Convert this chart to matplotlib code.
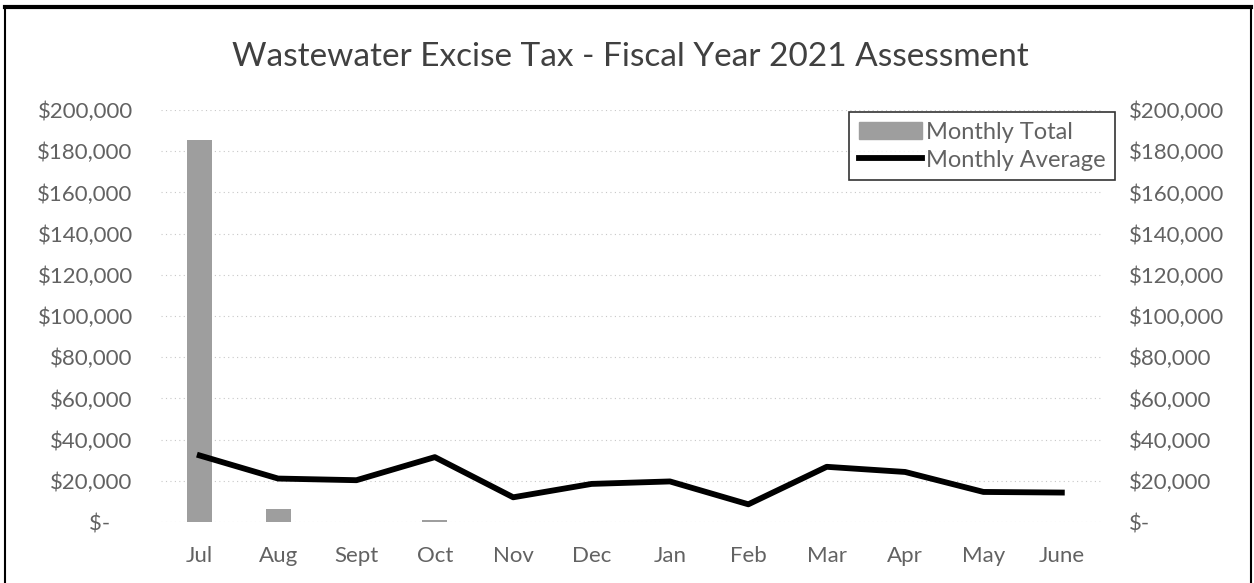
import numpy as np
import matplotlib.pyplot as plt
from matplotlib.lines import Line2D
from matplotlib.ticker import FuncFormatter

plt.rcParams['font.family'] = ['Lato', 'DejaVu Sans']

meses = ['Jul', 'Aug', 'Sept', 'Oct', 'Nov', 'Dec', 'Jan', 'Feb', 'Mar', 'Apr', 'May', 'June']
total_mensual = [185400, 6500, 0, 900, 0, 0, 0, 0, 0, 0, 0, 0]
promedio_mensual = [32300, 21100, 20300, 31500, 12000, 18500, 19700, 8600, 26800, 24300, 14600, 14300]
ticks_y = list(range(0, 200001, 20000))

gris_texto = '#626262'
tam = 16


def dinero(v, pos=None):
    if v == 0:
        return '$-    '
    return f'${v:,.0f}'


fig = plt.figure(figsize=(12.54, 5.83), dpi=100)
ax = fig.add_axes([0.128, 0.1046, 0.75, 0.7067])
x = np.arange(len(meses))

ax.bar(x, total_mensual, width=0.32, color='#9e9e9e', zorder=2, label='Monthly Total')
ax.set_xlim(-0.5, len(meses) - 0.5)
ax.set_ylim(0, 200000)
ax.set_yticks(ticks_y)
ax.yaxis.set_major_formatter(FuncFormatter(dinero))
ax.grid(axis='y', color='#c8c8c8', linestyle=(0, (1, 3)), linewidth=0.8, zorder=0)
ax.set_xticks(x)
ax.set_xticklabels(meses)

# eje secundario para el promedio
ax2 = ax.twinx()
ax2.plot(x, promedio_mensual, color='black', linewidth=4.2, solid_joinstyle='round', zorder=3)
ax2.set_ylim(0, 200000)
ax2.set_yticks(ticks_y)
ax2.yaxis.set_major_formatter(FuncFormatter(lambda v, p: '$-' if v == 0 else f'${v:,.0f}'))

for a in (ax, ax2):
    for s in a.spines.values():
        s.set_visible(False)
    a.tick_params(length=0, colors=gris_texto, labelsize=tam)
ax.tick_params(axis='x', pad=17)
ax.tick_params(axis='y', pad=20)
ax2.tick_params(axis='y', pad=20)

fig.suptitle('Wastewater Excise Tax - Fiscal Year 2021 Assessment', x=0.503, y=0.928,
             fontsize=24, color='#404040')

handles = [plt.Rectangle((0, 0), 1, 1, color='#9e9e9e'),
           Line2D([0], [0], color='black', linewidth=4.2)]
leg = ax2.legend(handles, ['Monthly Total', 'Monthly Average'], loc='upper right',
                 bbox_to_anchor=(1.0149, 0.995), fontsize=17, frameon=True, fancybox=False,
                 handlelength=2.7, handletextpad=0.15, borderpad=0.4, labelspacing=0.3,
                 borderaxespad=0)
leg.get_frame().set_edgecolor('black')
leg.get_frame().set_linewidth(1.2)
for t in leg.get_texts():
    t.set_color(gris_texto)

# marco exterior
fig.add_artist(Line2D([0.004, 0.998], [0.988, 0.988], color='black', linewidth=3, transform=fig.transFigure))
fig.add_artist(Line2D([0.004, 0.004], [0.0, 0.988], color='black', linewidth=1.5, transform=fig.transFigure))
fig.add_artist(Line2D([0.998, 0.998], [0.0, 0.988], color='black', linewidth=1.5, transform=fig.transFigure))

fig.savefig('out.png', dpi=100, facecolor='white')
